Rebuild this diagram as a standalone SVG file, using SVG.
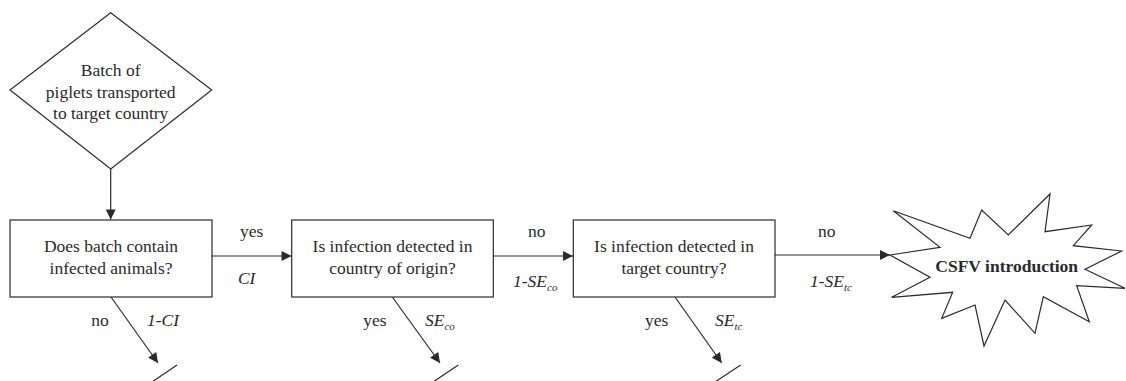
<svg xmlns="http://www.w3.org/2000/svg" width="1126" height="381" viewBox="0 0 1126 381">
  <style>
    .shape { fill: #ffffff; stroke: #2a2a2a; stroke-width: 1.2; }
    .line { fill: none; stroke: #2a2a2a; stroke-width: 1.2; }
    text { font-family: 'Liberation Serif', 'Times New Roman', serif; font-size: 17.5px; fill: #2a2a2a; }
    .c { text-anchor: middle; }
    .i { font-style: italic; }
    .b { font-weight: bold; }
    .sub { font-size: 11px; }
  </style>
  <defs>
    <marker id="arrow" viewBox="0 0 10 10" refX="10" refY="5" markerWidth="11" markerHeight="10" markerUnits="userSpaceOnUse" orient="auto">
      <path d="M0,0 L10,5 L0,10 Z" fill="#2a2a2a"/>
    </marker>
  </defs>

  <rect width="1126" height="381" fill="#ffffff"/>

  <!-- connectors and their branch labels -->
  <g id="connectors">
    <line class="line" x1="110.7" y1="169" x2="110.7" y2="219.5" marker-end="url(#arrow)"/>
    <line class="line" x1="212" y1="256" x2="291.5" y2="256" marker-end="url(#arrow)"/>
    <line class="line" x1="493.3" y1="256" x2="573" y2="256" marker-end="url(#arrow)"/>
    <line class="line" x1="775" y1="255" x2="890" y2="255" marker-end="url(#arrow)"/>
    <!-- terminal branches, each ending at a stop bar -->
    <line class="line" x1="111" y1="297" x2="158" y2="363" marker-end="url(#arrow)"/>
    <line class="line" x1="177" y1="365" x2="152" y2="382"/>
    <line class="line" x1="392.3" y1="297" x2="440" y2="363" marker-end="url(#arrow)"/>
    <line class="line" x1="458.3" y1="365" x2="433" y2="382"/>
    <line class="line" x1="675" y1="297" x2="721.7" y2="363" marker-end="url(#arrow)"/>
    <line class="line" x1="740.7" y1="365" x2="715" y2="382"/>
    <text class="c" x="251.7" y="237">yes</text>
    <text class="c i" x="246.7" y="284">CI</text>
    <text class="c" x="100" y="326">no</text>
    <text class="c i" x="163" y="326">1-CI</text>
    <text class="c" x="536.7" y="237">no</text>
    <text class="i" x="513" y="287">1-SE<tspan class="sub" dy="4">co</tspan></text>
    <text class="c" x="375" y="326">yes</text>
    <text class="i" x="425" y="326">SE<tspan class="sub" dy="4">co</tspan></text>
    <text class="c" x="826.7" y="237">no</text>
    <text class="i" x="810" y="287">1-SE<tspan class="sub" dy="4">tc</tspan></text>
    <text class="c" x="656.7" y="326">yes</text>
    <text class="i" x="715" y="326">SE<tspan class="sub" dy="4">tc</tspan></text>
  </g>

  <g id="start">
    <polygon class="shape" points="110.7,12.7 211.7,90 110.7,169 10,90"/>
    <text class="c" x="110.7" y="76">Batch of</text>
    <text class="c" x="110.7" y="97.5">piglets transported</text>
    <text class="c" x="110.7" y="119">to target country</text>
  </g>

  <g id="infected">
    <rect class="shape" x="10" y="220" width="202" height="77"/>
    <text class="c" x="111" y="252">Does batch contain</text>
    <text class="c" x="111" y="273.5">infected animals?</text>
  </g>

  <g id="detected-origin">
    <rect class="shape" x="291.7" y="220" width="201.6" height="77"/>
    <text class="c" x="392.5" y="252">Is infection detected in</text>
    <text class="c" x="392.5" y="273.5">country of origin?</text>
  </g>

  <g id="detected-target">
    <rect class="shape" x="573.3" y="220" width="201.7" height="77"/>
    <text class="c" x="674" y="252">Is infection detected in</text>
    <text class="c" x="674" y="273.5">target country?</text>
  </g>

  <g id="introduction">
    <polygon class="shape" points="893.3,210.7 970,238.3 981.7,210 1008.3,235 1050,194 1045,231.7 1091.7,225 1073.3,245.7 1121.7,251 1085,269.3 1125,288.3 1076.7,285.7 1089.3,321.7 1043.3,296.7 1035,333.3 1005,300 984,346 975,305 941.7,318.3 952.7,292.3 891.7,297.3 930,277.3 890,255 940,247.3"/>
    <text class="c b" x="1006.7" y="272">CSFV introduction</text>
  </g>
</svg>
